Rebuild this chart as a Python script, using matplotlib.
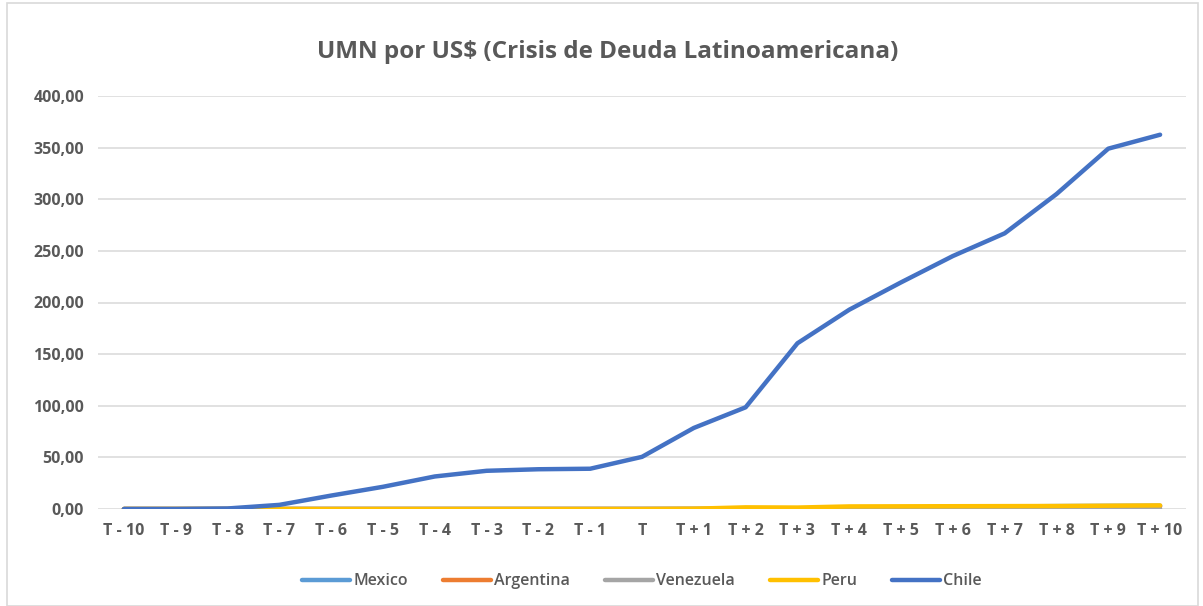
import matplotlib.pyplot as plt
from matplotlib.patches import Rectangle

# ------------------------------------------------------------------ dati
periodi = ['T - 10', 'T - 9', 'T - 8', 'T - 7', 'T - 6', 'T - 5', 'T - 4',
           'T - 3', 'T - 2', 'T - 1', 'T', 'T + 1', 'T + 2', 'T + 3',
           'T + 4', 'T + 5', 'T + 6', 'T + 7', 'T + 8', 'T + 9', 'T + 10']
mexico = [0.01, 0.01, 0.01, 0.01, 0.01, 0.02, 0.02, 0.02, 0.02, 0.03, 0.06,
          0.12, 0.17, 0.26, 0.61, 1.38, 2.27, 2.46, 2.81, 3.02, 3.10]
argentina = [0.0, 0.0, 0.0, 0.0, 0.0, 0.0, 0.0, 0.0, 0.0, 0.0, 0.0,
             0.01, 0.05, 0.07, 0.18, 0.52, 0.88, 1.10, 1.50, 2.00, 2.60]
venezuela = [0.0, 0.0, 0.0, 0.0, 0.0, 0.0, 0.0, 0.0, 0.0, 0.0, 0.0,
             0.0, 0.0, 0.0, 0.01, 0.02, 0.03, 0.04, 0.05, 0.10, 0.15]
peru = [0.0, 0.0, 0.0, 0.0, 0.0, 0.0, 0.0, 0.0, 0.0, 0.0, 0.0,
        0.3, 1.6, 1.4, 2.5, 2.6, 2.7, 2.8, 2.9, 3.2, 3.5]
chile = [0.0, 0.0, 0.5, 4.0, 13.0, 21.5, 31.5, 37.0, 38.5, 39.0, 50.5,
         78.5, 98.5, 160.5, 193.0, 219.5, 245.0, 267.0, 305.0, 349.0, 362.5]

serie = [('Mexico', mexico, '#5B9BD5'),
         ('Argentina', argentina, '#ED7D31'),
         ('Venezuela', venezuela, '#A5A5A5'),
         ('Peru', peru, '#FFC000'),
         ('Chile', chile, '#4472C4')]

GRIGIO = '#595959'
plt.rcParams['font.family'] = ['Open Sans', 'DejaVu Sans']

fig = plt.figure(figsize=(12.03, 6.06), dpi=100)
fig.patches.append(Rectangle((0.006, 0.0), 0.99, 0.995, transform=fig.transFigure,
                             fill=False, edgecolor='#D9D9D9', lw=1.2))
ax = fig.add_axes([98 / 1203, 97 / 606, 1088 / 1203, 413 / 606])

x = list(range(len(periodi)))
for nome, vals, col in serie:
    ax.plot(x, vals, color=col, lw=3.2, label=nome, solid_capstyle='round')

ax.set_xlim(-0.5, len(periodi) - 0.5)
ax.set_ylim(0, 400)
ax.set_yticks(range(0, 401, 50))
ax.set_yticklabels([f'{v},00' for v in range(0, 401, 50)])
ax.set_xticks(x)
ax.set_xticklabels(periodi)
ax.grid(axis='y', color='#D9D9D9', lw=1.1)
ax.set_axisbelow(True)
for s in ax.spines.values():
    s.set_visible(False)
ax.tick_params(length=0, labelsize=11.5, labelcolor=GRIGIO, pad=10)
for t in ax.get_xticklabels() + ax.get_yticklabels():
    t.set_fontweight('bold')

fig.text(0.505, 0.915, 'UMN por US$ (Crisis de Deuda Latinoamericana)',
         ha='center', va='center', fontsize=17.5, color=GRIGIO,
         fontweight='bold')

leg = ax.legend(loc='center', bbox_to_anchor=(0.5, -0.175), ncol=5,
                frameon=False, fontsize=11.5, labelcolor=GRIGIO,
                handlelength=3.0, handletextpad=0.2, columnspacing=2.2)
for t in leg.get_texts():
    t.set_fontweight('semibold')

fig.savefig('out.png', dpi=100)
